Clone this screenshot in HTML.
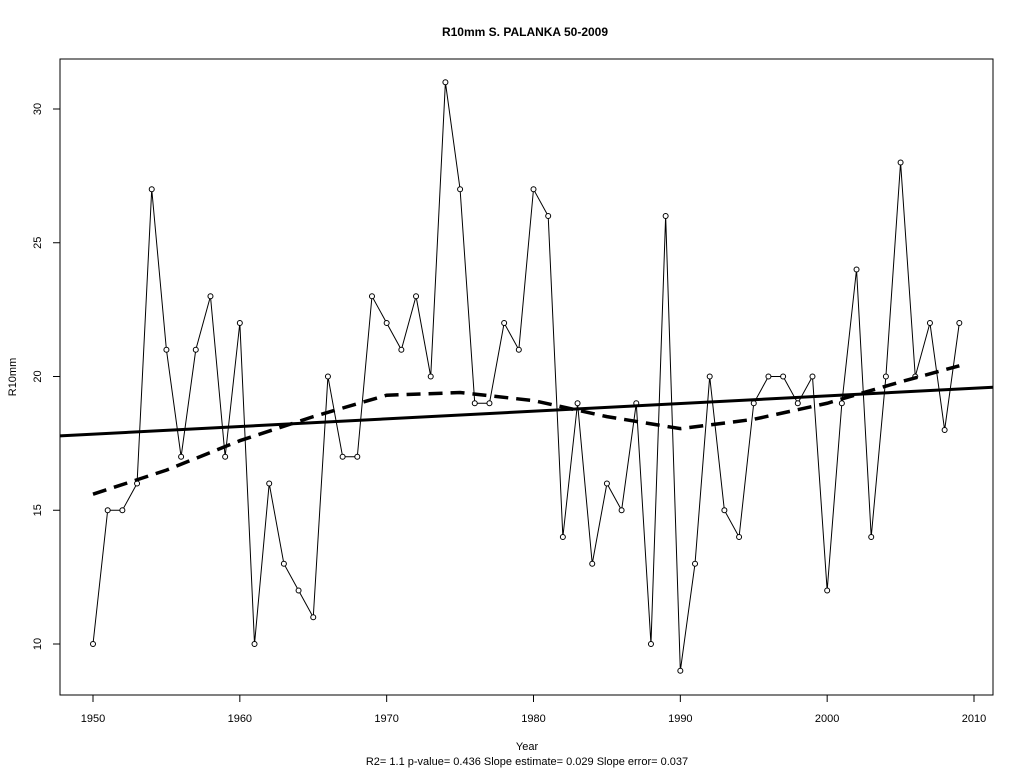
<!DOCTYPE html>
<html><head><meta charset="utf-8"><style>
body{margin:0;background:#fff;}
svg{display:block;font-family:"Liberation Sans",Arial,sans-serif;}
</style></head><body>
<svg id="chart" width="1024" height="768" viewBox="0 0 1024 768">
<text x="525" y="36" text-anchor="middle" font-size="12" font-weight="bold">R10mm   S. PALANKA 50-2009</text>
<rect x="60" y="59" width="933" height="636" fill="none" stroke="#000" stroke-width="1"/>
<text x="16" y="377" transform="rotate(-90 16 377)" text-anchor="middle" font-size="11">R10mm</text>
<text x="527" y="750" text-anchor="middle" font-size="11">Year</text>
<text x="527" y="765" text-anchor="middle" font-size="11">R2= 1.1  p-value= 0.436  Slope estimate= 0.029  Slope error= 0.037</text>
<g id="axes"></g>
<g id="marks"></g>
</svg>
<script>
const years=[];for(let y=1950;y<=2009;y++)years.push(y);
const values=[10,15,15,16,27,21,17,21,23,17,22,10,16,13,12,11,20,17,17,23,22,21,23,20,31,27,19,19,22,21,27,26,14,19,13,16,15,19,10,26,9,13,20,15,14,19,20,20,19,20,12,19,24,14,20,28,20,22,18,22];
const smoothYears=[1950,1955,1960,1965,1970,1975,1980,1985,1990,1995,2000,2005,2009];
const smoothValues=[15.6,16.5,17.6,18.5,19.3,19.4,19.1,18.5,18.05,18.4,19.0,19.8,20.4];
const trendStart=[1947.75,17.78];
const trendEnd=[2011.3,19.6];
const xTicks=[1950,1960,1970,1980,1990,2000,2010];
const yTicks=[10,15,20,25,30];
const NS="http://www.w3.org/2000/svg";
const X=v=>93+(v-1950)*881/60;
const Y=v=>644-(v-10)*26.75;
const axes=document.getElementById('axes'),marks=document.getElementById('marks');
function mk(tag,attrs,parent){const e=document.createElementNS(NS,tag);for(const k in attrs)e.setAttribute(k,attrs[k]);parent.appendChild(e);return e;}
xTicks.forEach(t=>{
 const l=mk('line',{x1:X(t),x2:X(t),y1:695,y2:702,stroke:'#000'},axes);
 
 
 const tx=mk('text',{x:X(t),y:722,'text-anchor':'middle','font-size':11},axes);tx.textContent=t;
 
 
});
yTicks.forEach(t=>{
 const l=mk('line',{x1:53,x2:60,y1:Y(t),y2:Y(t),stroke:'#000'},axes);
 
 
 const tx=mk('text',{x:41,y:Y(t),'text-anchor':'middle','font-size':11,transform:`rotate(-90 41 ${Y(t)})`},axes);tx.textContent=t;
 
 
});
const pts=years.map((y,i)=>[X(y),Y(values[i])]);
const line=mk('polyline',{points:pts.map(p=>p.join(',')).join(' '),fill:'none',stroke:'#000','stroke-width':1},marks);


pts.forEach(p=>{
 const c=mk('circle',{cx:p[0],cy:p[1],r:2.5,fill:'#fff',stroke:'#000','stroke-width':1},marks);
 
 
});
const tr=mk('line',{x1:X(trendStart[0]),y1:Y(trendStart[1]),x2:X(trendEnd[0]),y2:Y(trendEnd[1]),stroke:'#000','stroke-width':3},marks);


const sm=mk('polyline',{points:smoothYears.map((y,i)=>X(y)+','+Y(smoothValues[i])).join(' '),fill:'none',stroke:'#000','stroke-width':3.5,'stroke-dasharray':'14,8'},marks);


</script>
</body></html>
